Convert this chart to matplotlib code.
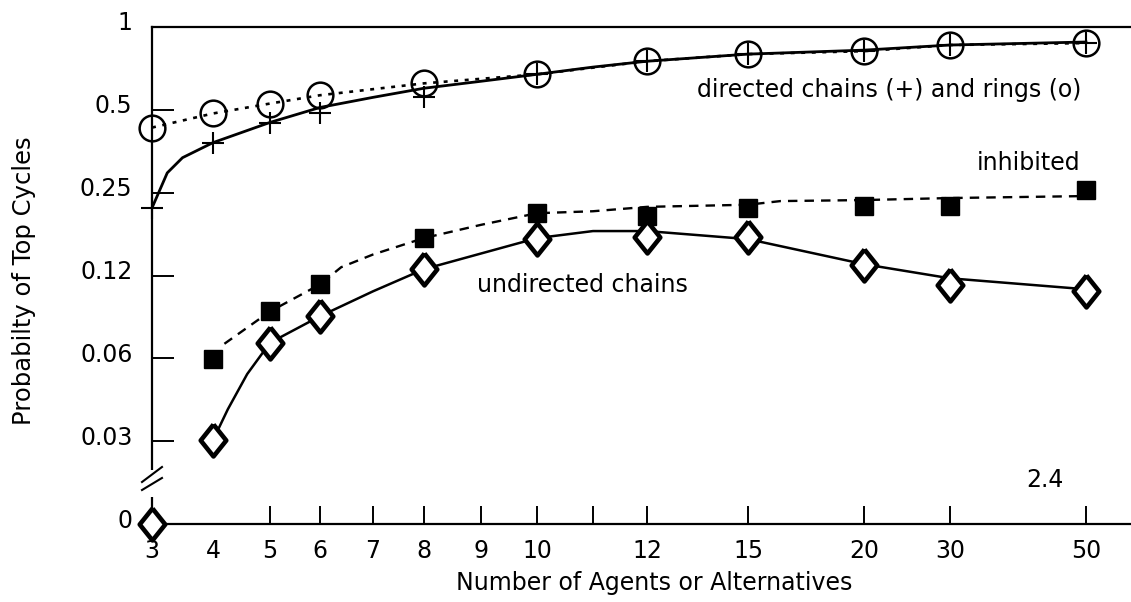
import numpy as np
import matplotlib
matplotlib.use("Agg")
import matplotlib.pyplot as plt
from matplotlib.transforms import ScaledTranslation
from matplotlib.patches import Rectangle

plt.rcParams['font.family'] = ['DejaVu Sans']

# ---------------- data ----------------
# directed rings (o), dotted line through the circles
rings_x = [3, 4, 5, 6, 8, 10, 12, 15, 20, 30, 50]
rings_y = [0.431, 0.485, 0.527, 0.565, 0.624, 0.673, 0.751, 0.797, 0.817, 0.860, 0.874]

# directed chains (+), markers and smooth solid curve
chains_x = [3, 4, 5, 6, 8, 10, 12, 15, 20, 30, 50]
chains_y = [0.220, 0.380, 0.446, 0.485, 0.555, 0.673, 0.751, 0.797, 0.817, 0.860, 0.874]
chains_curve_x = [3, 3.25, 3.5, 4, 5, 6, 7, 8, 9, 10, 11, 12, 15, 20, 30, 50]
chains_curve_y = [0.220, 0.295, 0.335, 0.380, 0.450, 0.510, 0.555, 0.599, 0.635,
                  0.673, 0.715, 0.751, 0.797, 0.824, 0.860, 0.882]

# inhibited (filled squares), dashed curve
inhib_x = [4, 5, 6, 8, 10, 12, 15, 20, 30, 50]
inhib_y = [0.0621, 0.0926, 0.116, 0.171, 0.211, 0.206, 0.220, 0.224, 0.224, 0.256]
inhib_curve_x = [4.2, 5, 6, 6.4, 7, 8, 9, 10, 11, 12, 15, 16.4, 20, 30, 50]
inhib_curve_y = [0.0706, 0.0925, 0.116, 0.134, 0.149, 0.171, 0.191, 0.2105, 0.214,
                 0.222, 0.226, 0.233, 0.235, 0.239, 0.243]

# undirected chains (diamonds), solid curve
undir_x = [3, 4, 5, 6, 8, 10, 12, 15, 20, 30, 50]
undir_y = [0.0, 0.0315, 0.0713, 0.0888, 0.132, 0.169, 0.172, 0.173, 0.136, 0.115, 0.110]
undir_curve_x = [4, 4.26, 4.6, 5, 6, 7, 8, 10, 11, 12, 15, 20, 30, 50]
undir_curve_y = [0.0315, 0.0408, 0.0548, 0.0712, 0.0889, 0.1095, 0.1318, 0.1709,
                 0.1813, 0.1813, 0.1695, 0.1374, 0.1221, 0.1114]

x_tick_values = [3, 4, 5, 6, 7, 8, 9, 10, 11, 12, 15, 20, 30, 50]
x_tick_labels = ['3', '4', '5', '6', '7', '8', '9', '10', '', '12', '15', '20', '30', '50']
x_unmarked = [3, 4]          # labelled but without a tick mark
y_tick_values = [1, 0.5, 0.25, 0.125, 0.0625, 0.03125, 0]
y_tick_labels = ['1', '0.5', '0.25', '0.12', '0.06', '0.03', '0']

# ---------------- scales ----------------
XV = np.array([3, 4, 5, 6, 7, 8, 9, 10, 11, 12, 15, 20, 30, 50, 60], float)
XP = np.array([152, 213, 270, 320, 373, 424, 481, 537, 593, 647, 748, 864, 950, 1086, 1131], float)


def xfwd(x):
    return np.interp(np.asarray(x, float), XV, XP)


def xinv(p):
    return np.interp(np.asarray(p, float), XP, XV)


LO = 2.0 ** -5


def yfwd(y):
    y = np.asarray(y, float)
    return np.where(y >= LO, np.log2(np.maximum(y, 1e-12)), -6 + y / LO)


def yinv(t):
    t = np.asarray(t, float)
    return np.where(t >= -5, 2.0 ** np.minimum(t, 50), (t + 6) * LO)


W, H = 1131, 602
fig = plt.figure(figsize=(W / 100, H / 100), dpi=100)
ax = fig.add_axes([152 / W, 78 / H, 979 / W, 497 / H])
ax.set_xscale('function', functions=(xfwd, xinv))
ax.set_yscale('function', functions=(yfwd, yinv))
ax.set_xlim(3, 60)
ax.set_ylim(0, 1)

# lines
ax.plot(chains_curve_x, chains_curve_y, color='black', lw=2.0, zorder=3, clip_on=False)
ax.plot(rings_x, rings_y, color='black', lw=1.9, ls=(0, (1.5, 2.5)), zorder=3, clip_on=False)
ax.plot(inhib_curve_x, inhib_curve_y, color='black', lw=1.7, ls=(0, (4, 3)), zorder=3)
ax.plot(undir_curve_x, undir_curve_y, color='black', lw=1.8, zorder=3)

# markers
ax.plot(rings_x, rings_y, ls='none', marker='o', ms=18.5, mew=1.8, mfc='none', mec='black',
        zorder=5, clip_on=False)
ax.plot(chains_x, chains_y, ls='none', marker='+', ms=16, mew=1.5, color='black',
        zorder=5, clip_on=False)
ax.plot(inhib_x, inhib_y, ls='none', marker='s', ms=13, color='black', zorder=5)
diamond = [(0, 1), (0.8, 0), (0, -1), (-0.8, 0), (0, 1)]
ax.plot(undir_x, undir_y, ls='none', marker=diamond, ms=23, mew=3.3, mfc='white',
        mec='black', zorder=6, clip_on=False)

# axes styling
for s in ['left', 'bottom', 'top']:
    ax.spines[s].set_linewidth(1.6)
ax.spines['right'].set_visible(False)

ax.set_yticks(y_tick_values)
ax.set_yticklabels(y_tick_labels)
ax.tick_params(axis='y', which='major', direction='in', length=16, width=1.4, pad=14,
               labelsize=17)
ax.yaxis.set_minor_locator(matplotlib.ticker.NullLocator())

ax.set_xticks(x_tick_values)
ax.set_xticklabels(x_tick_labels)
ax.xaxis.set_minor_locator(matplotlib.ticker.NullLocator())
ax.tick_params(axis='x', which='major', direction='in', length=13, width=1.4, pad=11,
               labelsize=17)
for v, tk in zip(x_tick_values, ax.xaxis.get_major_ticks()):
    if v in x_unmarked:
        tk.tick1line.set_visible(False)

off = ScaledTranslation(0, 0.06, fig.dpi_scale_trans)
for lbl in ax.get_yticklabels():
    lbl.set_transform(lbl.get_transform() + off)

# axis break on the y axis
ax.add_patch(Rectangle((-0.006, 0.054), 0.012, 0.055, transform=ax.transAxes,
                       facecolor='white', edgecolor='none', zorder=4, clip_on=False))
ax.plot([-0.0102, 0.0102], [0.0845, 0.1147], transform=ax.transAxes, color='black',
        lw=1.5, clip_on=False, zorder=5)
ax.plot([-0.0102, 0.0102], [0.0684, 0.0926], transform=ax.transAxes, color='black',
        lw=1.5, clip_on=False, zorder=5)

# annotations
fs = 17
fig.text(1081 / W, 1 - 90 / H, 'directed chains (+) and rings (o)', ha='right', va='center',
         fontsize=fs)
fig.text(1080 / W, 1 - 163 / H, 'inhibited', ha='right', va='center', fontsize=fs)
fig.text(477 / W, 1 - 285 / H, 'undirected chains', ha='left', va='center', fontsize=fs)
fig.text(1045 / W, 1 - 480 / H, '2.4', ha='center', va='center', fontsize=fs)

fig.text(24 / W, 1 - 281 / H, 'Probabilty of Top Cycles', rotation=90, ha='center',
         va='center', fontsize=17.5)
fig.text(654 / W, 1 - 583 / H, 'Number of Agents or Alternatives', ha='center',
         va='center', fontsize=fs)

fig.savefig('out.png', dpi=100)
